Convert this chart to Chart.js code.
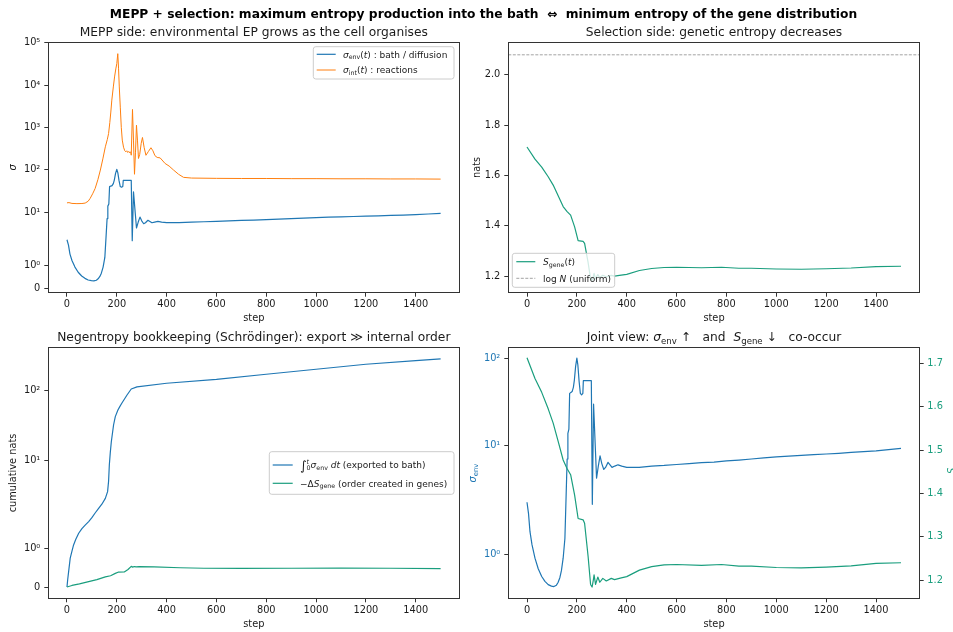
<!DOCTYPE html>
<html>
<head>
<meta charset="utf-8">
<script src="https://cdn.jsdelivr.net/npm/chart.js@4.4.1/dist/chart.umd.min.js"></script>
<style>
  html, body { margin: 0; padding: 0; background: #fff; overflow: hidden; }
  #wrap { position: relative; width: 953px; height: 632px; }
  #wrap canvas { position: absolute; left: 0; top: 0; }
</style>
</head>
<body>
<div id="wrap">
  <canvas id="c1" width="953" height="632"></canvas>
  <canvas id="c2" width="953" height="632"></canvas>
  <canvas id="c3" width="953" height="632"></canvas>
  <canvas id="c4" width="953" height="632"></canvas>
</div>
<script>
// ---------------- data ----------------
// environmental entropy production sigma_env(t)
const stepEnv = [0, 6, 12, 20, 32, 45, 59, 72, 85, 98, 108, 118, 125, 132, 138, 145, 152, 157, 161, 164,
  168, 171, 176, 181, 186, 190, 195, 200, 204, 209, 214, 219, 224, 226, 258, 262, 267, 279, 286, 293,
  300, 308, 315, 325, 333, 341, 352, 365, 380, 400, 450, 500, 550, 600, 650, 700, 750, 800, 850, 900,
  950, 1000, 1050, 1100, 1150, 1200, 1250, 1300, 1350, 1400, 1450, 1500];
const sigmaEnv = [2.22, 1.85, 1.47, 1.2, 0.92, 0.7, 0.54, 0.44, 0.37, 0.34, 0.33, 0.36, 0.42, 0.52, 0.66, 0.92, 1.33, 2.7, 7, 13.8,
  15.5, 40, 41, 42, 47, 57, 82, 102, 85, 55, 40, 38.5, 40, 56, 56, 2.1, 30, 4.2, 5.8, 7.6,
  6.2, 5.3, 5.6, 6.4, 6.0, 5.6, 5.8, 6.0, 5.8, 5.6, 5.6, 5.8, 5.9, 6.05, 6.2, 6.35, 6.45, 6.65, 6.8, 7.0,
  7.2, 7.4, 7.55, 7.7, 7.85, 8.0, 8.15, 8.35, 8.5, 8.7, 9.0, 9.3];

// internal (reaction) entropy production sigma_int(t)
const stepInt = [0, 8, 20, 40, 60, 73, 85, 93, 103, 113, 124, 134, 144, 154, 162, 167, 172, 176, 180, 186,
  191, 196, 200, 204, 207, 210, 214, 218, 222, 227, 232, 236, 240, 244, 248, 252, 256, 258, 263, 267,
  271, 275, 279, 283, 287, 292, 298, 303, 310, 317, 327, 337, 345, 353, 362, 374, 394, 410, 428, 448,
  468, 500, 600, 700, 800, 900, 1000, 1100, 1200, 1300, 1400, 1500];
const sigmaInt = [16.5, 16.7, 16.0, 15.8, 15.9, 16.3, 18, 21, 27, 36, 58, 98, 180, 347, 520, 716, 1300, 2300, 4400, 9000,
  15500, 24000, 32000, 55000, 25000, 9000, 3000, 1000, 500, 340, 280, 265, 280, 255, 270, 250, 265, 220, 2650, 500,
  78, 250, 1125, 500, 184, 230, 420, 577, 330, 219, 270, 330, 280, 215, 195, 190, 140, 122, 98, 78,
  66, 63.5, 62.5, 62, 62, 61.5, 61.5, 61, 61, 60.5, 60.5, 60];

// gene-distribution entropy S_gene(t)
const stepGene = [0, 32, 59, 85, 105, 125, 145, 160, 175, 191, 205, 225, 231, 245, 255, 261, 266, 269, 275, 284,
  292, 304, 318, 338, 351, 378, 400, 451, 500, 550, 600, 700, 780, 850, 900, 1000, 1100, 1200, 1300, 1400, 1500];
const sGene = [1.713, 1.665, 1.633, 1.595, 1.562, 1.52, 1.477, 1.458, 1.443, 1.396, 1.342, 1.339, 1.331, 1.255, 1.19, 1.184, 1.2, 1.212, 1.19, 1.207,
  1.195, 1.204, 1.198, 1.204, 1.201, 1.205, 1.208, 1.223, 1.231, 1.235, 1.236, 1.234, 1.236, 1.232, 1.232, 1.229, 1.228, 1.23, 1.233, 1.2385, 1.24];
const logNUniform = 2.079;

// cumulative entropy exported to the bath
const stepExp = [0, 3, 6.5, 13, 20, 26.5, 35, 47, 60, 73, 87, 100, 113, 127, 140, 154, 163, 167, 170, 174,
  178, 187, 194, 204.5, 212, 220, 241, 258, 281, 400, 600, 800, 1000, 1200, 1400, 1500];
const exported = [0, 0.2, 0.39, 0.74, 0.92, 1.08, 1.22, 1.38, 1.5, 1.59, 1.68, 1.78, 1.9, 2.05, 2.35, 2.85, 3.55, 5, 8.5, 13,
  18.3, 31.7, 41.7, 52, 58, 64.7, 85, 103.5, 111, 125, 142, 168, 198, 233, 262, 279];

// order created in the genes, -Delta S_gene
const stepOrd = [0, 20, 50, 87, 120, 154, 175, 194, 205, 230, 245, 258, 264, 270, 278, 290, 350, 454, 550, 700, 900, 1100, 1300, 1500];
const orderGene = [0, 0.04, 0.08, 0.14, 0.19, 0.26, 0.29, 0.35, 0.38, 0.385, 0.45, 0.53, 0.51, 0.525, 0.515, 0.525, 0.515, 0.495, 0.482, 0.48, 0.482, 0.486, 0.482, 0.474];

// tick positions
const stepTicks = [0, 200, 400, 600, 800, 1000, 1200, 1400];
const sigmaTicks = [0, 1, 10, 100, 1000, 10000, 100000];
const natsTicks = [1.2, 1.4, 1.6, 1.8, 2.0];
const cumTicks = [0, 1, 10, 100];
const jointEnvTicks = [1, 10, 100];
const jointGeneTicks = [1.2, 1.3, 1.4, 1.5, 1.6, 1.7];

// ---------------- style ----------------
const FAMILY = "'DejaVu Sans', 'Liberation Sans', sans-serif";
const BLUE = '#1f77b4', ORANGE = '#ff7f0e', TEAL = '#1a9e7e';
const TEXT = '#1a1a1a', AXIS = '#333333';
const TICK_SIZE = 9.8, LABEL_SIZE = 9.8, TITLE_SIZE = 12.25, LEG_SIZE = 9.0;
const Y_W = 40, Y2_W = 30, X_H = 20, PAGE_W = 953, PAGE_H = 632;

// ---------------- symmetric log scale (linthresh 2, base 10) ----------------
const LINTHRESH = 2, LINSCALE_ADJ = 1 / (1 - 1 / 10);
function symT(v) {
  const a = Math.abs(v);
  return a <= LINTHRESH ? v * LINSCALE_ADJ
    : Math.sign(v) * LINTHRESH * (LINSCALE_ADJ + Math.log10(a / LINTHRESH));
}
function symInv(t) {
  const a = Math.abs(t);
  return a <= LINTHRESH * LINSCALE_ADJ ? t / LINSCALE_ADJ
    : Math.sign(t) * LINTHRESH * Math.pow(10, a / LINTHRESH - LINSCALE_ADJ);
}
const BaseScale = Chart.Scale || Chart.LinearScale;
class SymlogScale extends BaseScale {
  determineDataLimits() {
    const { min, max } = this.getMinMax(true);
    const o = this.options;
    this.min = Number.isFinite(o.min) ? o.min : min;
    this.max = Number.isFinite(o.max) ? o.max : max;
  }
  buildTicks() { return []; }
  configure() {
    super.configure();
    this._t0 = symT(this.min);
    this._tr = symT(this.max) - this._t0;
  }
  getPixelForValue(v) {
    if (v === null || v === undefined || isNaN(v)) return NaN;
    return this.getPixelForDecimal((symT(v) - this._t0) / this._tr);
  }
  getValueForPixel(p) { return symInv(this._t0 + this.getDecimalForPixel(p) * this._tr); }
  getLabelForValue(v) { return String(v); }
}
SymlogScale.id = 'symlog';
SymlogScale.defaults = {};
Chart.register(SymlogScale);

const SUPS = { '0': '⁰', '1': '¹', '2': '²', '3': '³', '4': '⁴', '5': '⁵', '6': '⁶', '7': '⁷', '8': '⁸', '9': '⁹' };
function decadeLabel(v) {
  if (v === 0) return '0';
  const e = Math.round(Math.log10(v));
  return '10' + String(e).split('').map(c => SUPS[c]).join('');
}

// ---------------- rich text (sub/superscripts, italics) ----------------
function layoutRich(ctx, parts, size, weight) {
  let x = 0, prev = null;
  const items = [];
  for (const [t, s = ''] of parts) {
    const small = /[bp]/.test(s);
    const sz = small ? size * 0.7 : (/L/.test(s) ? size * 1.4 : size);
    const font = (/i/.test(s) ? 'italic ' : '') + (weight || 'normal') + ' ' + sz.toFixed(2) + 'px ' + FAMILY;
    ctx.font = font;
    const w = ctx.measureText(t).width;
    const dy = /b/.test(s) ? size * 0.22 : (/p/.test(s) ? -size * 0.45 : (/L/.test(s) ? size * 0.15 : 0));
    let ix = x;
    if (/k/.test(s) && prev) { ix = prev.x; x = prev.x + Math.max(prev.w, w); }
    else x += w;
    const it = { t, font, x: ix, dy, w };
    items.push(it);
    prev = it;
  }
  return { items, width: x };
}
function drawRich(ctx, parts, x, y, o = {}) {
  const size = o.size || LABEL_SIZE;
  ctx.save();
  ctx.translate(x, y);
  if (o.rot) ctx.rotate(o.rot);
  const L = layoutRich(ctx, parts, size, o.weight);
  const x0 = o.align === 'center' ? -L.width / 2 : (o.align === 'right' ? -L.width : 0);
  ctx.fillStyle = o.color || TEXT;
  ctx.textBaseline = 'alphabetic';
  ctx.textAlign = 'left';
  for (const it of L.items) { ctx.font = it.font; ctx.fillText(it.t, x0 + it.x, it.dy); }
  ctx.restore();
}

function drawFrame(ctx, a) {
  ctx.save();
  ctx.strokeStyle = AXIS;
  ctx.lineWidth = 1;
  const l = Math.floor(a.left) + 0.5, t = Math.floor(a.top) + 0.5;
  const r = Math.floor(a.right) + 0.5, b = Math.floor(a.bottom) + 0.5;
  ctx.strokeRect(l, t, r - l, b - t);
  ctx.restore();
}

function drawLegend(ctx, box, rows) {
  ctx.save();
  const { x0, y0, x1, y1 } = box, rad = 2.5;
  ctx.beginPath();
  ctx.moveTo(x0 + rad, y0);
  ctx.arcTo(x1, y0, x1, y1, rad);
  ctx.arcTo(x1, y1, x0, y1, rad);
  ctx.arcTo(x0, y1, x0, y0, rad);
  ctx.arcTo(x0, y0, x1, y0, rad);
  ctx.closePath();
  ctx.fillStyle = 'rgba(255,255,255,0.8)';
  ctx.fill();
  ctx.strokeStyle = '#cccccc';
  ctx.lineWidth = 1;
  ctx.stroke();
  for (const r of rows) {
    ctx.beginPath();
    ctx.strokeStyle = r.color;
    ctx.lineWidth = r.width;
    ctx.setLineDash(r.dash || []);
    ctx.moveTo(box.sx0, r.y);
    ctx.lineTo(box.sx1, r.y);
    ctx.stroke();
    ctx.setLineDash([]);
    drawRich(ctx, r.text, box.tx, r.y + 3.2, { size: LEG_SIZE });
  }
  ctx.restore();
}

// ---------------- chart helpers ----------------
const xy = (xs, ys) => xs.map((x, i) => ({ x, y: ys[i] }));
const tickFont = { family: FAMILY, size: TICK_SIZE };
const fixedTicks = vals => s => { s.ticks = vals.map(v => ({ value: v })); };
const gridOpts = { drawOnChartArea: false, drawTicks: true, tickLength: 4, tickColor: AXIS, tickWidth: 1 };

function stepAxis() {
  return {
    type: 'linear', position: 'bottom', min: -75, max: 1575, bounds: 'data',
    afterBuildTicks: fixedTicks(stepTicks),
    afterFit: s => { s.height = X_H; },
    grid: gridOpts, border: { display: false },
    ticks: { autoSkip: false, maxRotation: 0, padding: 2, font: tickFont, color: TEXT, callback: v => String(v) }
  };
}
function yAxis(type, min, max, vals, fmt, color, position) {
  const right = position === 'right';
  return {
    type, position: position || 'left', min, max, bounds: 'data',
    afterBuildTicks: fixedTicks(vals),
    afterFit: s => { s.width = right ? Y2_W : Y_W; },
    grid: gridOpts, border: { display: false },
    ticks: { autoSkip: false, padding: right ? 3.6 : 4, font: tickFont, color: color || TEXT, callback: fmt }
  };
}
function line(data, color, width, extra) {
  return Object.assign({ data, borderColor: color, borderWidth: width, pointRadius: 0, tension: 0,
    fill: false, borderJoinStyle: 'round' }, extra || {});
}
function makePanel(id, area, datasets, scales, draw) {
  const hasRight = !!scales.y2;
  new Chart(document.getElementById(id), {
    type: 'line',
    data: { datasets },
    options: {
      responsive: false, animation: false, devicePixelRatio: 1,
      layout: { padding: {
        left: area.l - Y_W, top: area.t,
        right: PAGE_W - area.r - (hasRight ? Y2_W : 0), bottom: PAGE_H - area.b - X_H } },
      plugins: { legend: { display: false }, tooltip: { enabled: false }, title: { display: false } },
      scales
    },
    plugins: [{ id: 'decor', afterDraw(chart) { drawFrame(chart.ctx, chart.chartArea); draw(chart.ctx, chart); } }]
  });
}
const mid = a => (a.l + a.r) / 2;
const vmid = a => (a.t + a.b) / 2;
const ROT = -Math.PI / 2;

// ---------------- panel 1: sigma_env and sigma_int ----------------
const A1 = { l: 48.3, t: 42.3, r: 459.3, b: 292.7 };
makePanel('c1', A1, [
  line(xy(stepInt, sigmaInt), ORANGE, 1.0, { order: 0 }),
  line(xy(stepEnv, sigmaEnv), BLUE, 1.2, { order: 1 })
], {
  x: stepAxis(),
  y: yAxis('symlog', -0.17, 1.02e5, sigmaTicks, decadeLabel)
}, ctx => {
  drawRich(ctx, [['MEPP + selection: maximum entropy production into the bath  ⇔  minimum entropy of the gene distribution']],
    483.5, 18.3, { size: TITLE_SIZE, align: 'center', weight: 'bold', color: '#000' });
  drawRich(ctx, [['MEPP side: environmental EP grows as the cell organises']], mid(A1), 35.7, { size: TITLE_SIZE, align: 'center' });
  drawRich(ctx, [['step']], mid(A1), 321, { align: 'center' });
  drawRich(ctx, [['σ', 'i']], 16, vmid(A1), { align: 'center', rot: ROT });
  drawLegend(ctx, { x0: 313.3, y0: 46.7, x1: 454, y1: 79, sx0: 316.7, sx1: 335.7, tx: 343 }, [
    { y: 54.3, color: BLUE, width: 1.2, text: [['σ', 'i'], ['env', 'b'], ['('], ['t', 'i'], [') : bath / diffusion']] },
    { y: 70, color: ORANGE, width: 1.0, text: [['σ', 'i'], ['int', 'b'], ['('], ['t', 'i'], [') : reactions']] }
  ]);
});

// ---------------- panel 2: S_gene ----------------
const A2 = { l: 508.3, t: 42.3, r: 919.7, b: 292.7 };
makePanel('c2', A2, [
  line(xy(stepGene, sGene), TEAL, 1.2, { order: 1 }),
  line([{ x: -75, y: logNUniform }, { x: 1575, y: logNUniform }], '#8c8c8c', 0.8, { borderDash: [3, 1.5], order: 0 })
], {
  x: stepAxis(),
  y: yAxis('linear', 1.135, 2.1286, natsTicks, v => v.toFixed(1))
}, ctx => {
  drawRich(ctx, [['Selection side: genetic entropy decreases']], mid(A2), 35.7, { size: TITLE_SIZE, align: 'center' });
  drawRich(ctx, [['step']], mid(A2), 321, { align: 'center' });
  drawRich(ctx, [['nats']], 479.5, vmid(A2), { align: 'center', rot: ROT });
  drawLegend(ctx, { x0: 512.3, y0: 253.3, x1: 614.7, y1: 287.3, sx0: 516.3, sx1: 535.3, tx: 543 }, [
    { y: 261.7, color: TEAL, width: 1.2, text: [['S', 'i'], ['gene', 'b'], ['('], ['t', 'i'], [')']] },
    { y: 278.3, color: '#8c8c8c', width: 0.8, dash: [3, 1.5], text: [['log '], ['N', 'i'], [' (uniform)']] }
  ]);
});

// ---------------- panel 3: negentropy bookkeeping ----------------
const A3 = { l: 48.3, t: 347.7, r: 459.3, b: 598.3 };
makePanel('c3', A3, [
  line(xy(stepOrd, orderGene), TEAL, 1.2, { order: 0 }),
  line(xy(stepExp, exported), BLUE, 1.2, { order: 1 })
], {
  x: stepAxis(),
  y: yAxis('symlog', -0.29, 401.6, cumTicks, decadeLabel)
}, ctx => {
  drawRich(ctx, [['Negentropy bookkeeping (Schrödinger): export ≫ internal order']], mid(A3), 341, { size: TITLE_SIZE, align: 'center' });
  drawRich(ctx, [['step']], mid(A3), 626.7, { align: 'center' });
  drawRich(ctx, [['cumulative nats']], 16, vmid(A3), { align: 'center', rot: ROT });
  drawLegend(ctx, { x0: 269.3, y0: 451.7, x1: 454, y1: 494.3, sx0: 272.7, sx1: 292.7, tx: 300 }, [
    { y: 465, color: BLUE, width: 1.2,
      text: [['∫', 'L'], ['0', 'b'], ['t', 'ipk'], ['σ', 'i'], ['env', 'b'], [' '], ['dt', 'i'], [' (exported to bath)']] },
    { y: 483.3, color: TEAL, width: 1.2, text: [['−Δ'], ['S', 'i'], ['gene', 'b'], [' (order created in genes)']] }
  ]);
});

// ---------------- panel 4: joint view on twin axes ----------------
const A4 = { l: 508.3, t: 347.7, r: 919.7, b: 598.3 };
makePanel('c4', A4, [
  line(xy(stepGene, sGene), TEAL, 1.2, { yAxisID: 'y2', order: 0 }),
  line(xy(stepEnv, sigmaEnv), BLUE, 1.2, { yAxisID: 'y', order: 1 })
], {
  x: stepAxis(),
  y: yAxis('symlog', 0.087, 134.6, jointEnvTicks, decadeLabel, BLUE),
  y2: yAxis('linear', 1.158, 1.736, jointGeneTicks, v => v.toFixed(1), TEAL, 'right')
}, ctx => {
  drawRich(ctx, [['Joint view: '], ['σ', 'i'], ['env', 'b'], [' ↑   and  '], ['S', 'i'], ['gene', 'b'], [' ↓   co-occur']],
    mid(A4), 341, { size: TITLE_SIZE, align: 'center' });
  drawRich(ctx, [['step']], mid(A4), 626.7, { align: 'center' });
  drawRich(ctx, [['σ', 'i'], ['env', 'b']], 475.5, vmid(A4), { align: 'center', rot: ROT, color: BLUE });
  drawRich(ctx, [['S', 'i'], ['gene', 'b']], 955, 474, { align: 'left', rot: ROT, color: TEAL });
});
</script>
</body>
</html>
